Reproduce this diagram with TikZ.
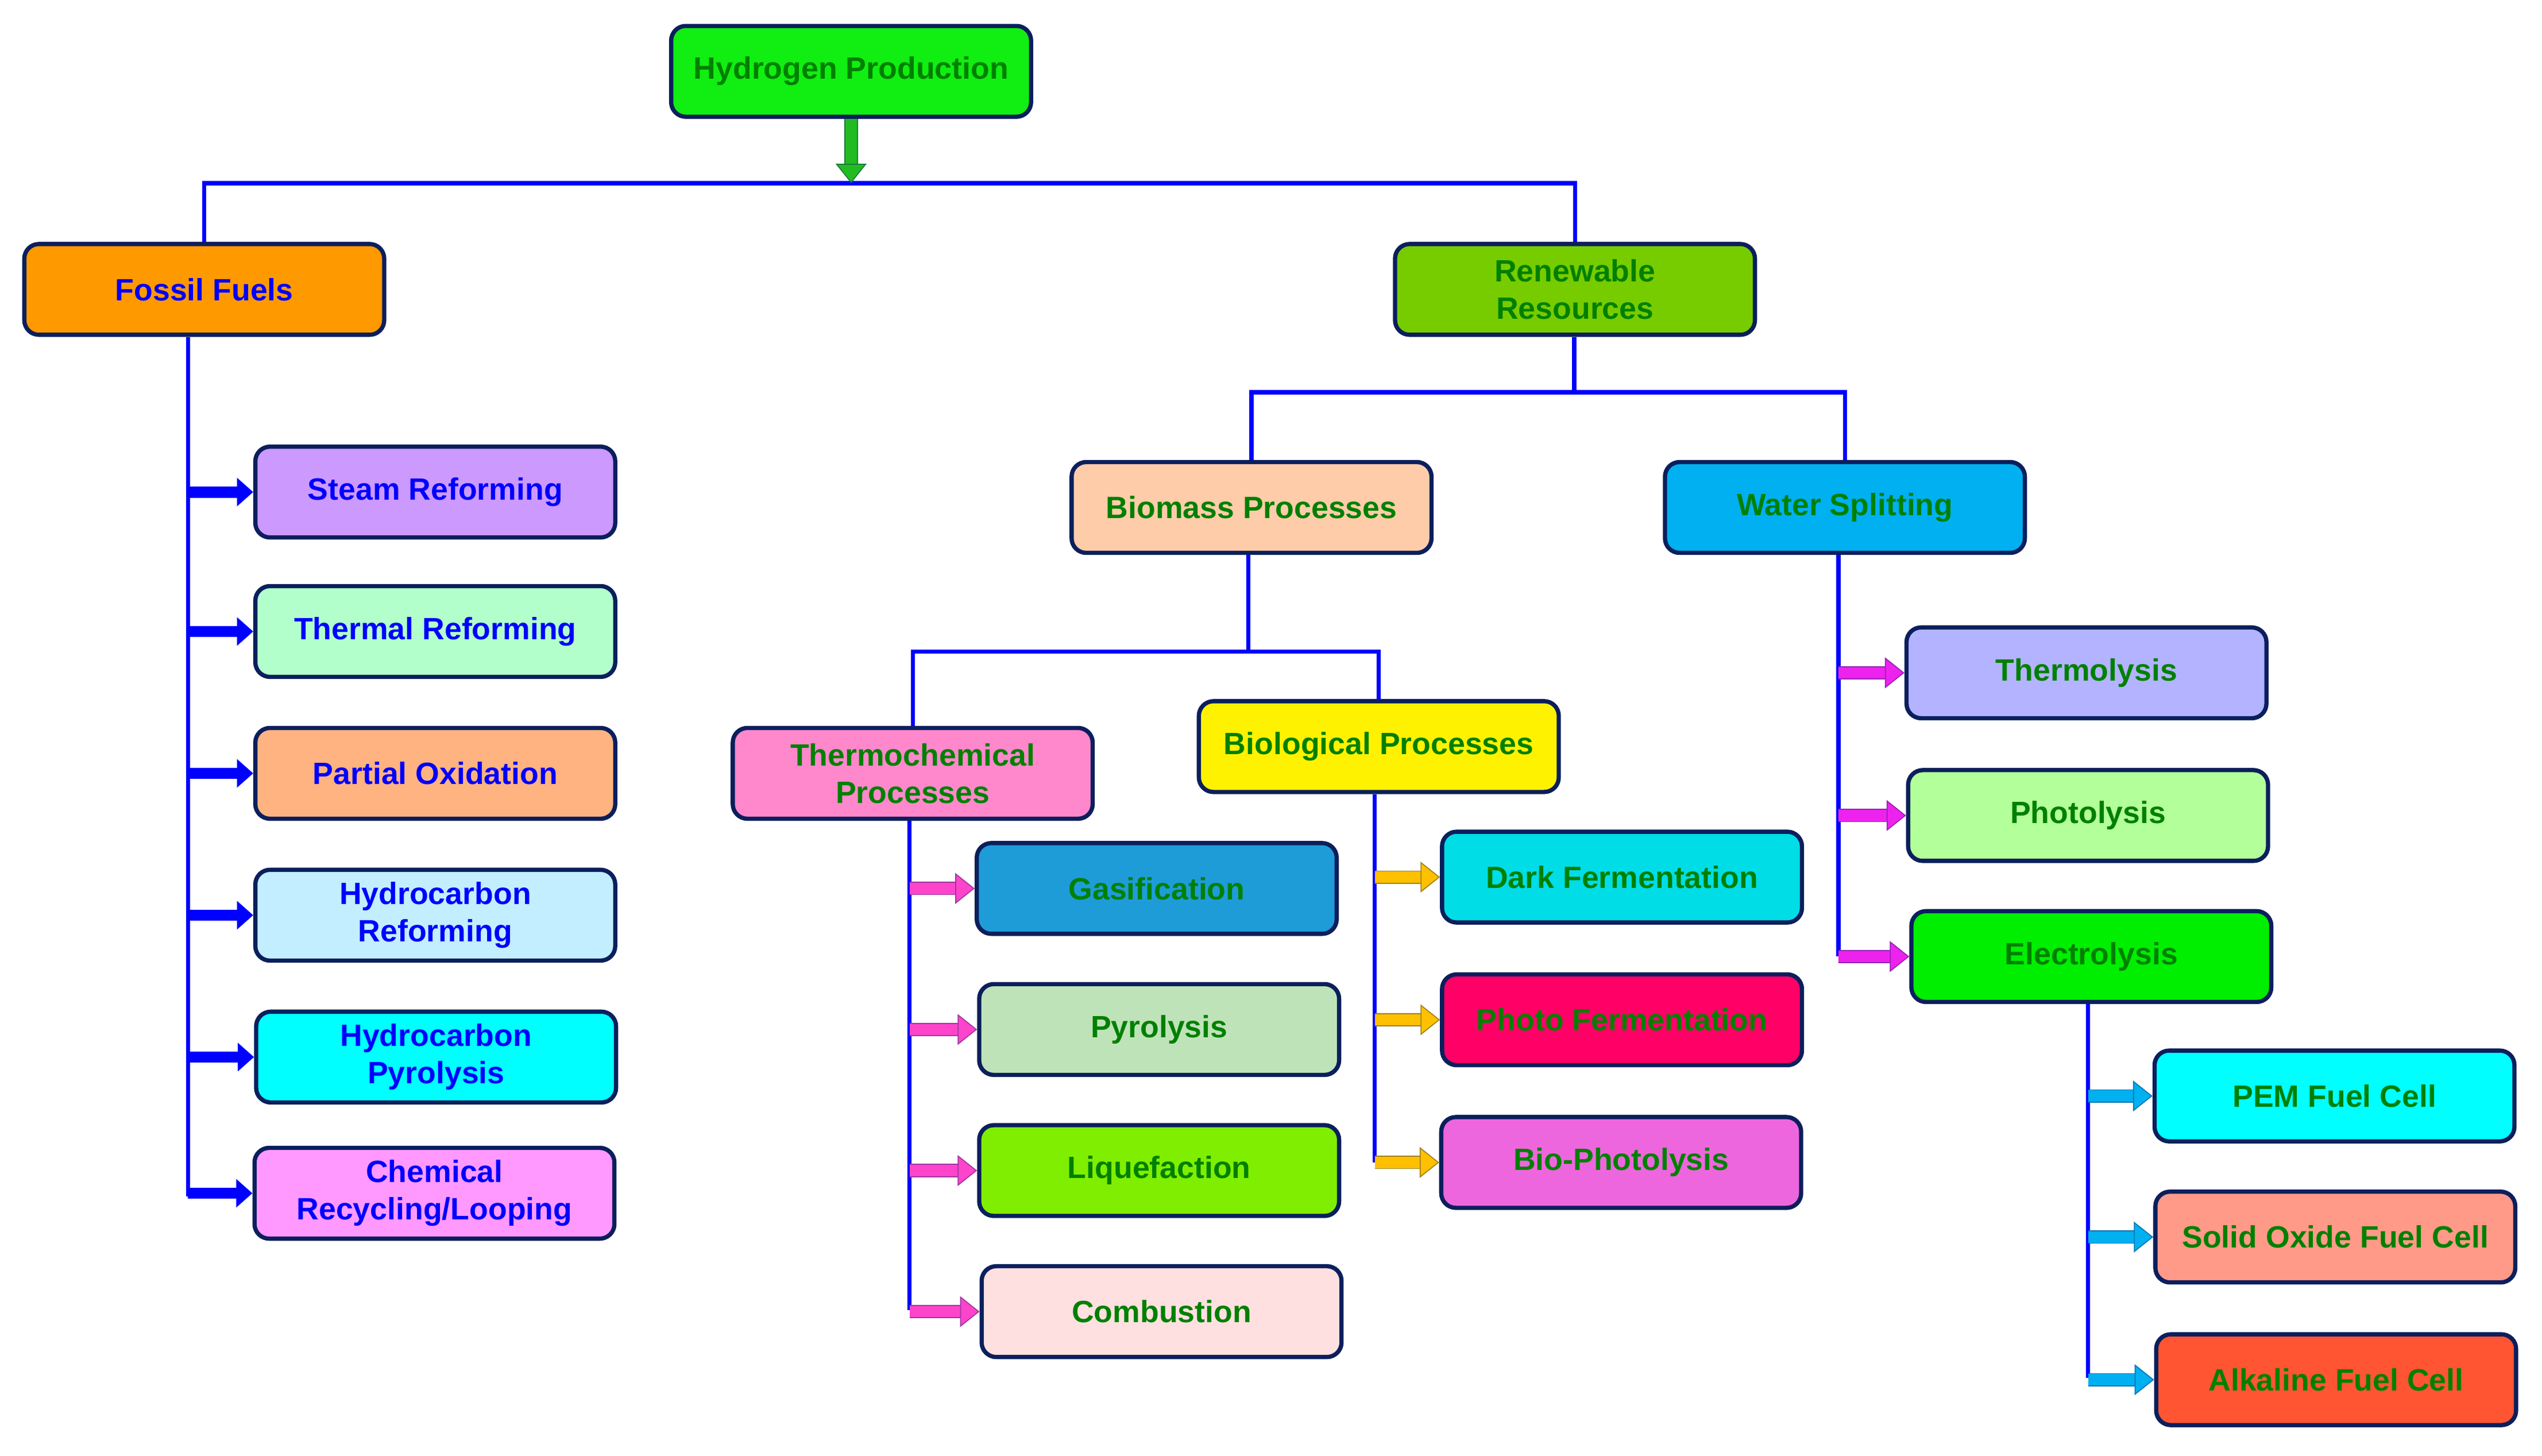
\documentclass[tikz,border=0pt]{standalone}
\usepackage{fontspec}
\setmainfont{Liberation Sans}
\usetikzlibrary{arrows.meta}
\definecolor{navy}{HTML}{0B1F5C}
\definecolor{tg}{HTML}{008000}
\definecolor{tb}{HTML}{0000FF}
\definecolor{agreen}{HTML}{22BB22}
\definecolor{apink}{HTML}{FF44CC}
\definecolor{aorange}{HTML}{FFC000}
\definecolor{amag}{HTML}{EE22EE}
\definecolor{asky}{HTML}{00B0F0}
\begin{document}
\begin{tikzpicture}[x=1pt,y=-1pt,
  box/.style={draw=navy,line width=2.6pt,rounded corners=9pt,minimum width=222pt,minimum height=56pt,align=center,inner sep=2pt,font=\fontsize{19}{23}\selectfont\bfseries},
  G/.style={box,text=tg},B/.style={box,text=tb},
  ln/.style={draw=tb,line width=2.6pt},
  barrow/.style={line width=7pt,-{Triangle[width=17pt,length=10pt]}},
  oarrow/.style={double=#1,double distance=7pt,draw=#1!60!navy,line width=0.6pt,-{Triangle[width=19pt,length=12pt,fill=#1]}}]
\useasboundingbox[fill=white] (0,0) rectangle (1568,898);
% nodes
\node[G,fill={rgb,255:red,17;green,238;blue,17}] (hp) at (525,44) {Hydrogen Production};
\node[B,fill={rgb,255:red,255;green,153;blue,0}] (ff) at (126,178.5) {Fossil Fuels};
\node[G,fill={rgb,255:red,119;green,204;blue,0}] (rr) at (971.5,178.5) {Renewable\\Resources};
\node[B,fill={rgb,255:red,204;green,153;blue,255}] (sr) at (268.5,303.5) {Steam Reforming};
\node[B,fill={rgb,255:red,179;green,255;blue,204}] (tr) at (268.5,389.5) {Thermal Reforming};
\node[B,fill={rgb,255:red,255;green,179;blue,128}] (po) at (268.5,477) {Partial Oxidation};
\node[B,fill={rgb,255:red,194;green,238;blue,255}] (hr) at (268.5,564.5) {Hydrocarbon\\Reforming};
\node[B,fill={rgb,255:red,0;green,255;blue,255}] (hpy) at (269,652) {Hydrocarbon\\Pyrolysis};
\node[B,fill={rgb,255:red,255;green,153;blue,255}] (cr) at (268,736) {Chemical\\Recycling/Looping};
\node[G,fill={rgb,255:red,255;green,204;blue,170}] (bp) at (772,313) {Biomass Processes};
\node[G,fill={rgb,255:red,0;green,176;blue,240}] (ws) at (1138,313) {Water Splitting};
\node[G,fill={rgb,255:red,255;green,136;blue,204}] (tp) at (563,477) {Thermochemical\\Processes};
\node[G,fill=yellow] (bio) at (850.5,460.5) {Biological Processes};
\node[G,fill={rgb,255:red,30;green,156;blue,216}] (gas) at (713.5,548) {Gasification};
\node[G,fill={rgb,255:red,191;green,227;blue,184}] (pyr) at (715,635) {Pyrolysis};
\node[G,fill={rgb,255:red,128;green,238;blue,0}] (liq) at (715,722) {Liquefaction};
\node[G,fill={rgb,255:red,255;green,224;blue,224}] (com) at (716.5,809) {Combustion};
\node[G,fill={rgb,255:red,0;green,221;blue,230}] (df) at (1000.5,541) {Dark Fermentation};
\node[G,fill={rgb,255:red,255;green,0;blue,102}] (pf) at (1000.5,629) {Photo Fermentation};
\node[G,fill={rgb,255:red,238;green,102;blue,221}] (bph) at (1000,717) {Bio-Photolysis};
\node[G,fill={rgb,255:red,179;green,179;blue,255}] (th) at (1287,415) {Thermolysis};
\node[G,fill={rgb,255:red,179;green,255;blue,153}] (ph) at (1288,503) {Photolysis};
\node[G,fill={rgb,255:red,0;green,238;blue,0}] (el) at (1290,590) {Electrolysis};
\node[G,fill={rgb,255:red,0;green,255;blue,255}] (pem) at (1440,676) {PEM Fuel Cell};
\node[G,fill={rgb,255:red,255;green,153;blue,136}] (sofc) at (1440.5,763) {Solid Oxide Fuel Cell};
\node[G,fill={rgb,255:red,255;green,85;blue,51}] (afc) at (1441,851) {Alkaline Fuel Cell};
% junction coordinates
\coordinate (j1) at (525,113);
\coordinate (fft) at (116,738);
\coordinate (j2) at (971,242);
\coordinate (j3) at (770,402);
\coordinate (tpt) at (561,808);
\coordinate (biot) at (848,717);
\coordinate (wst) at (1134,590);
\coordinate (elt) at (1288,850);
% top level
\draw[ln] (ff.north) -- (ff.north |- j1) -- (rr.north |- j1) -- (rr.north);
\draw[oarrow=agreen] (hp.south) -- (j1);
% fossil
\draw[ln] (ff.south -| fft) -- (fft);
\foreach \n in {sr,tr,po,hr,hpy,cr}
  \draw[barrow,tb] (\n.west -| fft) -- (\n.west);
% renewable
\draw[ln] (rr.south -| j2) -- (j2);
\draw[ln] (bp.north) -- (bp.north |- j2) -- (ws.north |- j2) -- (ws.north);
\draw[ln] (bp.south -| j3) -- (j3);
\draw[ln] (tp.north) -- (tp.north |- j3) -- (bio.north |- j3) -- (bio.north);
% thermochemical
\draw[ln] (tp.south -| tpt) -- (tpt);
\foreach \n in {gas,pyr,liq,com}
  \draw[oarrow=apink] (\n.west -| tpt) -- (\n.west);
% biological
\draw[ln] (bio.south -| biot) -- (biot);
\foreach \n in {df,pf,bph}
  \draw[oarrow=aorange] (\n.west -| biot) -- (\n.west);
% water splitting
\draw[ln] (ws.south -| wst) -- (wst);
\foreach \n in {th,ph,el}
  \draw[oarrow=amag] (\n.west -| wst) -- (\n.west);
% electrolysis
\draw[ln] (el.south -| elt) -- (elt);
\foreach \n in {pem,sofc,afc}
  \draw[oarrow=asky] (\n.west -| elt) -- (\n.west);
\end{tikzpicture}
\end{document}
